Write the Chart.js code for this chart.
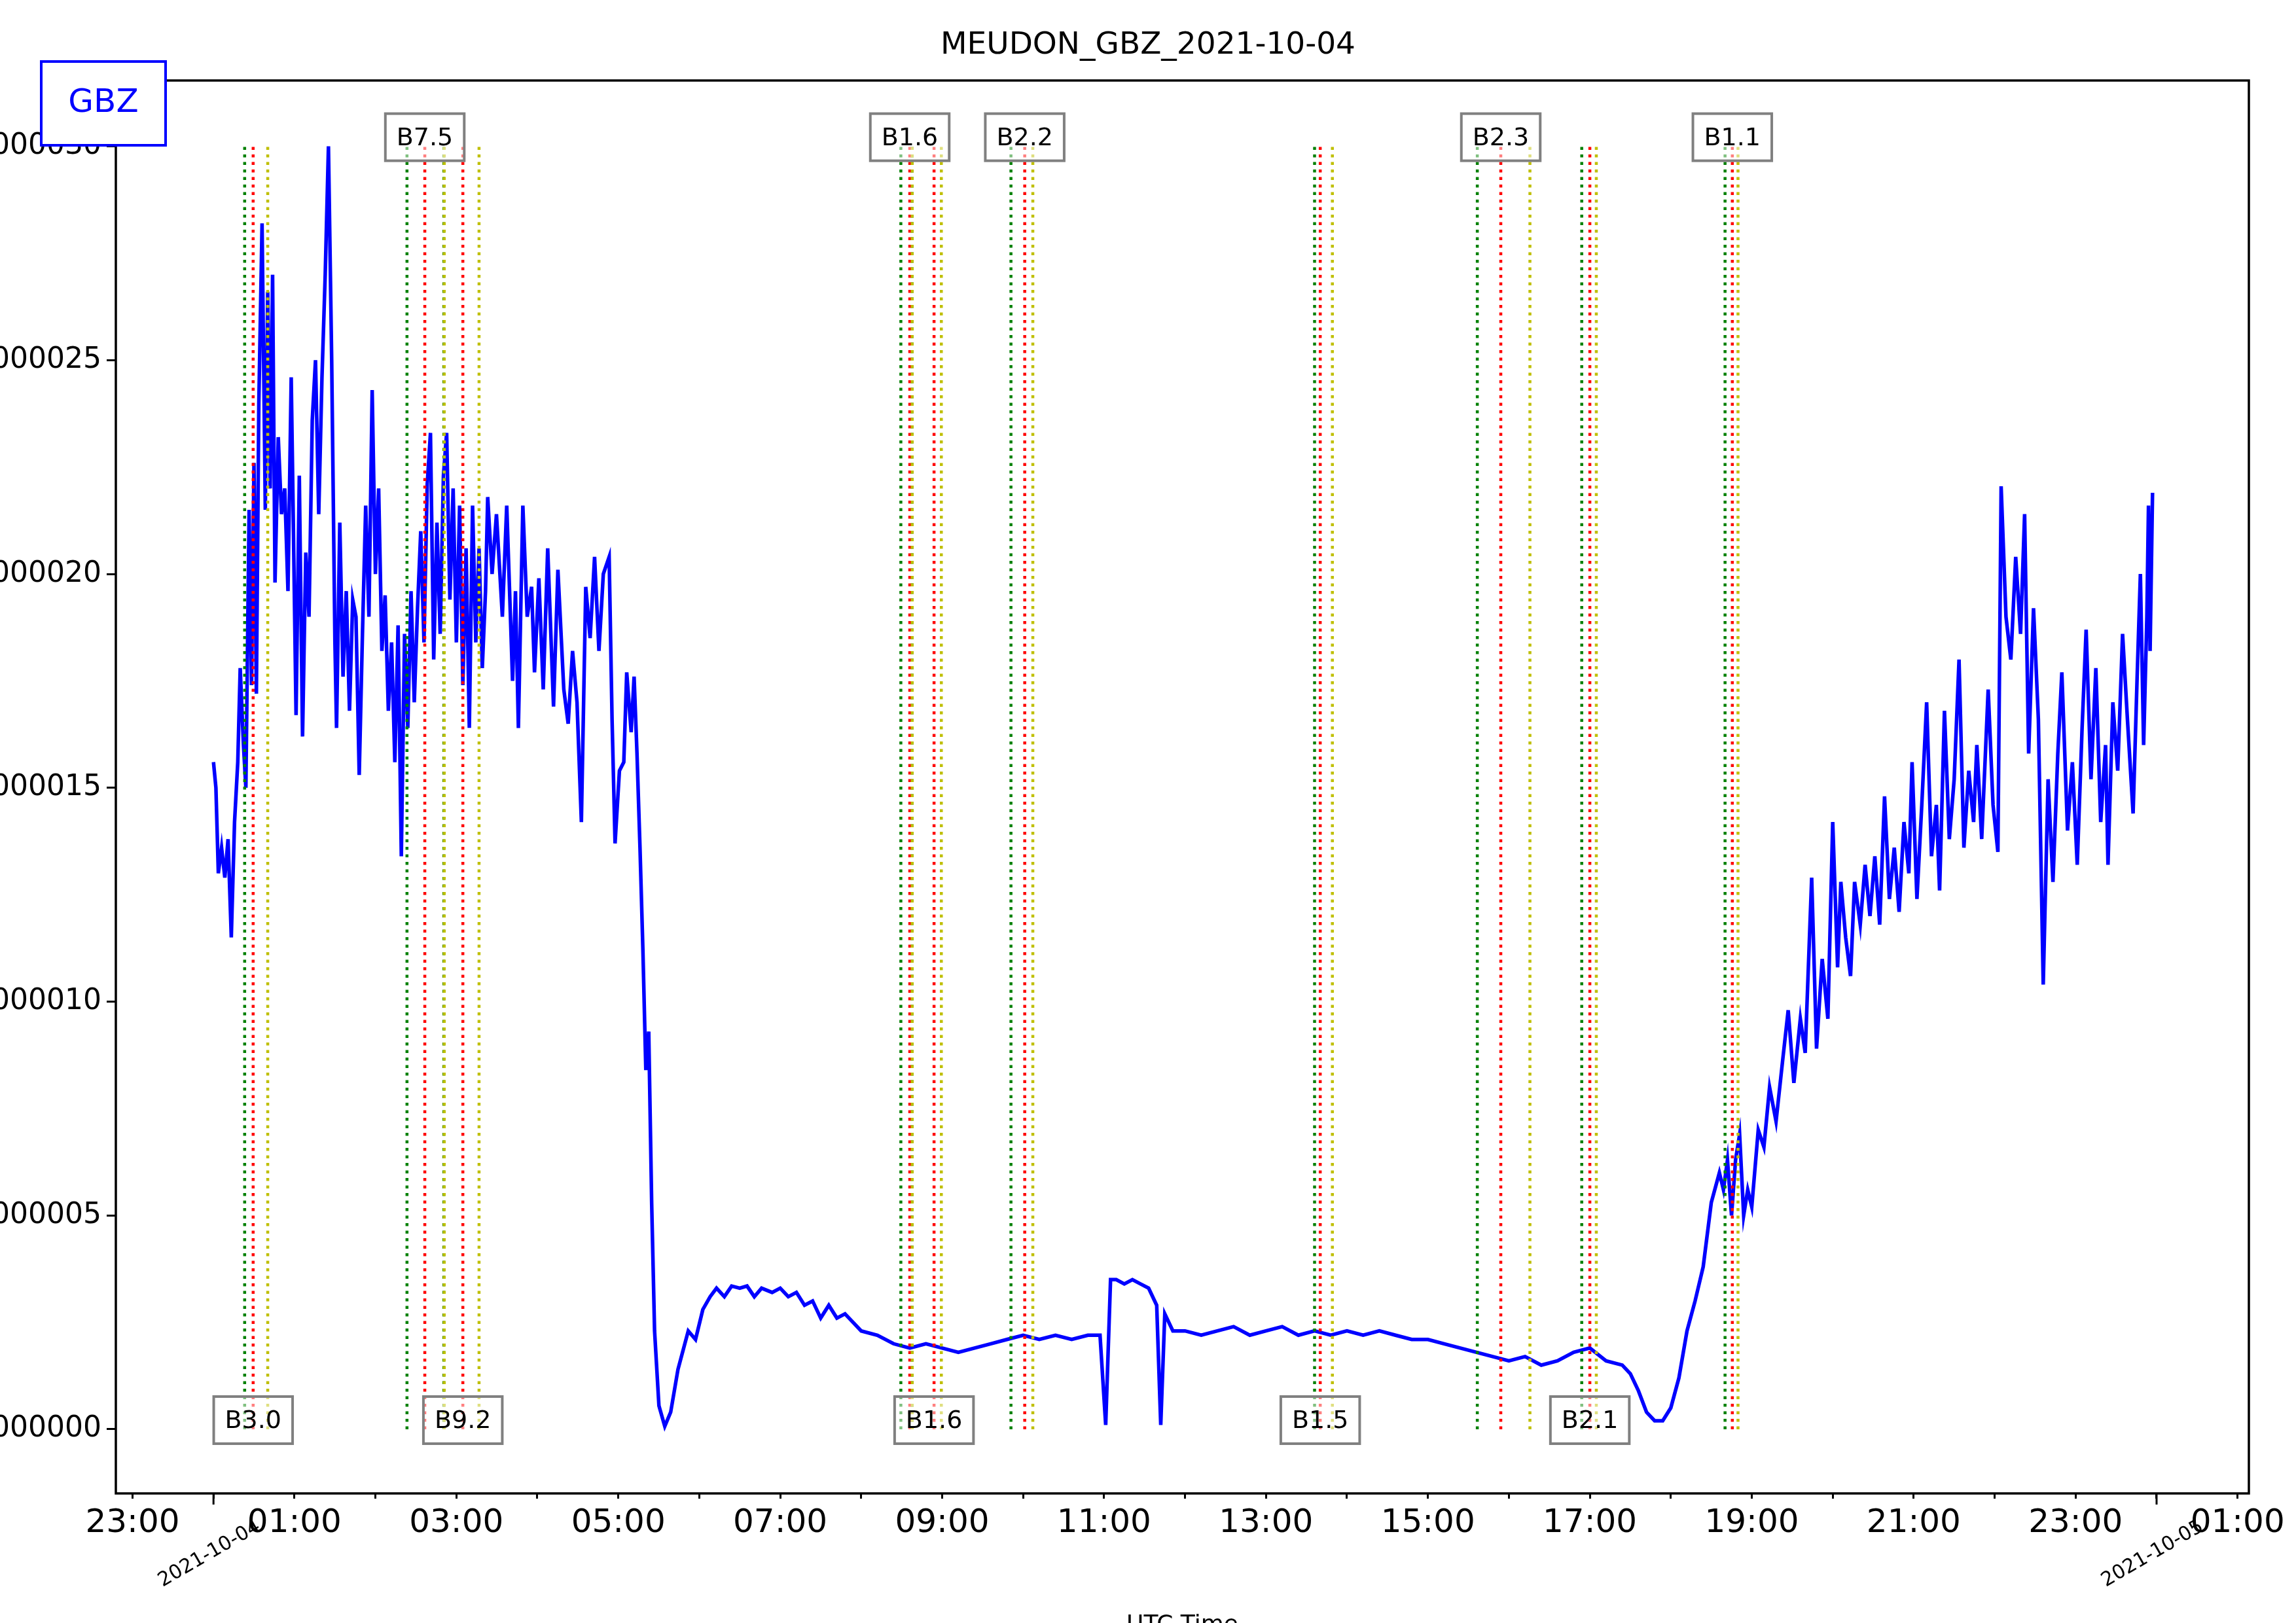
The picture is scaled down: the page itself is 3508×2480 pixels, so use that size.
<!DOCTYPE html>
<html>
<head>
<meta charset="UTF-8">
<title>MEUDON_GBZ_2021-10-04</title>
<script src="https://cdn.jsdelivr.net/npm/chart.js"></script>
<style>
  html, body { margin: 0; padding: 0; background: white; overflow: hidden; }
  #wrap { position: absolute; left: -275px; top: 0; width: 3783px; height: 2480px; }
</style>
</head>
<body>
<div id="wrap"><canvas id="wykres" width="3783" height="2480"></canvas></div>
<script>
// time in hours from 2021-10-04 00:00 UTC, signal in units of 1e-6
const hours = [
  0.00,0.03,0.06,0.10,0.14,0.18,0.22,0.26,0.30,0.33,0.37,0.40,0.44,0.47,0.50,0.53,0.56,0.60,0.64,0.67,
  0.70,0.73,0.76,0.80,0.84,0.88,0.92,0.96,0.98,1.02,1.06,1.10,1.14,1.18,1.22,1.26,1.30,1.34,1.38,1.42,
  1.46,1.50,1.52,1.56,1.60,1.64,1.68,1.72,1.76,1.80,1.84,1.88,1.92,1.96,2.00,2.04,2.08,2.12,2.16,2.20,
  2.24,2.28,2.32,2.36,2.40,2.44,2.48,2.52,2.56,2.60,2.64,2.68,2.72,2.76,2.80,2.84,2.88,2.92,2.96,3.00,
  3.04,3.08,3.12,3.16,3.20,3.24,3.28,3.32,3.36,
  3.387,3.441,3.495,3.568,3.622,3.694,3.730,3.766,3.821,3.875,3.929,3.965,4.019,4.073,4.128,4.200,4.254,4.327,4.381,4.435,
  4.490,4.544,4.598,4.652,4.707,4.761,4.815,4.887,4.923,4.960,5.014,5.068,5.104,5.159,5.195,5.231,5.268,5.304,5.340,5.376,
  5.412,5.448,5.502,5.574,5.647,5.737,5.864,5.954,6.044,6.134,6.213,6.31,6.40,6.50,6.59,6.68,6.77,
  6.90,7.00,7.10,7.20,7.30,7.40,7.50,7.60,7.70,7.80,7.90,8.00,8.20,8.40,8.60,8.80,9.00,9.20,9.40,9.60,
  9.80,10.00,10.20,10.40,10.60,10.80,10.95,
  11.02,11.08,11.15,11.25,11.35,11.45,11.55,11.65,11.70,11.75,11.85,12.00,12.20,12.40,12.60,12.80,13.00,13.20,13.40,13.60,
  13.80,14.00,14.20,14.40,14.60,14.80,15.00,15.20,15.40,15.60,15.80,16.00,16.20,16.40,16.60,16.80,17.00,17.20,17.40,17.50,
  17.60,17.70,17.80,17.90,18.00,18.10,18.20,18.30,18.40,18.50,18.60,18.65,18.70,18.75,18.80,18.85,18.90,18.95,19.00,19.08,
  19.15,19.22,19.30,19.38,19.45,19.52,19.60,19.66,19.74,19.80,19.87,19.94,20.00,20.06,20.10,20.16,20.22,20.27,20.34,20.40,
  20.46,20.52,20.58,20.64,20.70,20.76,20.82,20.88,20.94,20.98,21.04,21.10,21.16,21.22,21.28,21.32,21.38,21.44,21.50,21.56,
  21.62,21.68,21.74,21.78,21.84,21.92,21.98,22.04,22.08,22.14,22.20,22.26,22.32,22.37,22.42,22.48,22.54,22.60,22.66,22.72,
  22.78,22.83,22.90,22.96,23.02,23.08,23.13,23.19,23.25,23.31,23.37,23.40,23.46,23.52,23.58,23.64,23.71,23.76,23.80,23.84,
  23.88,23.90,23.92,23.95
];
const signal = [
  15.6,15.0,13.0,13.6,12.9,13.8,11.5,14.2,15.6,17.8,16.0,15.0,21.5,17.4,22.6,17.2,24.0,28.2,21.5,26.6,
  22.0,27.0,19.8,23.2,21.4,22.0,19.6,24.6,22.0,16.7,22.3,16.2,20.5,19.0,23.6,25.0,21.4,24.6,27.0,30.0,
  25.0,18.4,16.4,21.2,17.6,19.6,16.8,19.4,19.0,15.3,18.6,21.6,19.0,24.3,20.0,22.0,18.2,19.5,16.8,18.4,
  15.6,18.8,13.4,18.6,16.4,19.6,17.0,19.2,21.0,18.4,22.1,23.3,18.0,21.2,18.6,22.3,23.3,19.4,22.0,18.4,
  21.6,17.4,20.6,16.4,21.6,18.4,20.6,17.8,19.6,
  21.8,20.0,21.4,19.0,21.6,17.5,19.6,16.4,21.6,19.0,19.7,17.7,19.9,17.3,20.6,16.9,20.1,17.3,16.5,18.2,
  17.0,14.2,19.7,18.5,20.4,18.2,20.0,20.4,16.6,13.7,15.4,15.6,17.7,16.3,17.6,15.8,13.6,11.2,8.4,9.3,
  5.3,2.3,0.55,0.07,0.4,1.4,2.3,2.1,2.8,3.1,3.3,3.1,3.35,3.3,3.35,3.1,3.3,
  3.2,3.3,3.1,3.2,2.9,3.0,2.6,2.9,2.6,2.7,2.5,2.3,2.2,2.0,1.9,2.0,1.9,1.8,1.9,2.0,
  2.1,2.2,2.1,2.2,2.1,2.2,2.2,
  0.1,3.5,3.5,3.4,3.5,3.4,3.3,2.9,0.1,2.7,2.3,2.3,2.2,2.3,2.4,2.2,2.3,2.4,2.2,2.3,
  2.2,2.3,2.2,2.3,2.2,2.1,2.1,2.0,1.9,1.8,1.7,1.6,1.7,1.5,1.6,1.8,1.9,1.6,1.5,1.3,
  0.9,0.4,0.2,0.2,0.5,1.2,2.3,3.0,3.8,5.3,6.0,5.6,6.3,5.0,6.3,6.9,5.0,5.6,5.2,7.0,
  6.6,8.0,7.2,8.6,9.8,8.1,9.6,8.8,12.9,8.9,11.0,9.6,14.2,10.8,12.8,11.5,10.6,12.8,11.8,13.2,
  12.0,13.4,11.8,14.8,12.4,13.6,12.1,14.2,13.0,15.6,12.4,14.6,17.0,13.4,14.6,12.6,16.8,13.8,15.2,18.0,
  13.6,15.4,14.2,16.0,13.8,17.3,14.6,13.5,22.05,19.0,18.0,20.4,18.6,21.4,15.8,19.2,16.6,10.4,15.2,12.8,
  15.8,17.7,14.0,15.6,13.2,16.4,18.7,15.2,17.8,14.2,16.0,13.2,17.0,15.4,18.6,16.6,14.4,17.6,20.0,16.0,
  19.0,21.6,18.2,21.9
];
// flare events: start / peak / end (hours), class label, label position
const flareStart = [0.385, 2.39, 2.845, 8.49, 8.63, 9.85, 13.60, 15.61, 16.90, 18.67];
const flarePeak  = [0.49,  2.61, 3.08,  8.60, 8.90, 10.02, 13.67, 15.90, 17.00, 18.76];
const flareEnd   = [0.67,  2.85, 3.28,  8.63, 8.99, 10.12, 13.82, 16.26, 17.08, 18.83];
const flareClass = ['B3.0','B7.5','B9.2','B1.6','B1.6','B2.2','B1.5','B2.3','B2.1','B1.1'];
const flareLabelTop = [false, true, false, true, false, true, false, true, false, true];

const yTicks = [0, 5, 10, 15, 20, 25, 30];
const xTickHours = [-1, 1, 3, 5, 7, 9, 11, 13, 15, 17, 19, 21, 23, 25];
const dateLabels = [[0, '2021-10-04'], [24, '2021-10-05']];

const FONT = 'DejaVu Sans';
const OFF = 275;

const datasets = [];
function vline(x, color) {
  datasets.push({
    data: [{x: x, y: 0}, {x: x, y: 30}],
    borderColor: color, borderWidth: 4.5, borderDash: [4.5, 7],
    pointRadius: 0, fill: false
  });
}
flareStart.forEach((s, i) => {
  vline(flareEnd[i], '#bfbf00');
  vline(s, 'green');
  vline(flarePeak[i], 'red');
});
datasets.push({
  data: hours.map((h, i) => ({x: h, y: signal[i]})),
  borderColor: 'blue', borderWidth: 5.5, pointRadius: 0, tension: 0, fill: false
});

const decor = {
  id: 'decor',
  afterDraw(chart) {
    const c = chart.ctx, a = chart.chartArea;
    const xs = chart.scales.x, ys = chart.scales.y;
    c.save();
    c.strokeStyle = 'black'; c.lineWidth = 3.5;
    c.strokeRect(a.left, a.top, a.right - a.left, a.bottom - a.top);
    // longer ticks at the date boundaries
    c.lineWidth = 3;
    dateLabels.forEach(d => {
      const px = xs.getPixelForValue(d[0]);
      c.beginPath(); c.moveTo(px, a.bottom); c.lineTo(px, a.bottom + 17); c.stroke();
    });
    c.fillStyle = 'black'; c.font = '30px "' + FONT + '"';
    c.textAlign = 'right'; c.textBaseline = 'top';
    dateLabels.forEach(d => {
      const px = xs.getPixelForValue(d[0]);
      c.save(); c.translate(px + 62, a.bottom + 36); c.rotate(-Math.PI / 6);
      c.fillText(d[1], 0, 0); c.restore();
    });
    c.font = '36px "' + FONT + '"'; c.textAlign = 'center'; c.textBaseline = 'top';
    c.fillText('UTC Time', (a.left + a.right) / 2, 2466);
    c.font = '47px "' + FONT + '"'; c.textBaseline = 'middle';
    c.fillText('MEUDON_GBZ_2021-10-04', OFF + 1754, 70);
    // flare class labels
    c.font = '38px "' + FONT + '"';
    flareClass.forEach((t, i) => {
      const px = xs.getPixelForValue(flarePeak[i]);
      const py = (flareLabelTop[i] ? ys.getPixelForValue(30) : ys.getPixelForValue(0)) - 14;
      const w = c.measureText(t).width + 34, h = 72;
      c.fillStyle = 'rgba(255,255,255,0.5)';
      c.fillRect(px - w / 2, py - h / 2, w, h);
      c.strokeStyle = 'grey'; c.lineWidth = 4;
      c.strokeRect(px - w / 2, py - h / 2, w, h);
      c.fillStyle = 'black'; c.textAlign = 'center'; c.textBaseline = 'middle';
      c.fillText(t, px, py + 2);
    });
    // GBZ box
    c.fillStyle = 'white'; c.fillRect(OFF + 63, 94, 190, 128);
    c.strokeStyle = 'blue'; c.lineWidth = 4;
    c.strokeRect(OFF + 63, 94, 190, 128);
    c.fillStyle = 'blue'; c.font = '50px "' + FONT + '"';
    c.fillText('GBZ', OFF + 158, 158);
    c.restore();
  }
};

new Chart(document.getElementById('wykres'), {
  type: 'line',
  data: { datasets: datasets },
  plugins: [decor],
  options: {
    responsive: false, animation: false, devicePixelRatio: 1,
    layout: { padding: { top: 123, right: 72, left: 0, bottom: 0 } },
    plugins: { legend: { display: false }, tooltip: { enabled: false } },
    scales: {
      x: {
        type: 'linear', min: -1.206, max: 25.14,
        afterFit: s => { s.height = 198; },
        afterBuildTicks: s => { s.ticks = []; for (let h = -1; h <= 25; h++) s.ticks.push({value: h}); },
        grid: { drawOnChartArea: false, color: 'black', lineWidth: 3, tickLength: 8 },
        border: { display: false },
        ticks: {
          color: 'black', font: { family: FONT, size: 50 }, maxRotation: 0, autoSkip: false, padding: 8,
          callback: v => xTickHours.includes(v) ? String(((v % 24) + 24) % 24).padStart(2, '0') + ':00' : ''
        }
      },
      y: {
        min: -1.5, max: 31.54,
        afterFit: s => { s.width = 177 + OFF; },
        afterBuildTicks: s => { s.ticks = yTicks.map(v => ({value: v})); },
        grid: { drawOnChartArea: false, color: 'black', lineWidth: 3, tickLength: 14 },
        border: { display: false },
        ticks: { color: 'black', font: { family: FONT, size: 44 }, padding: 8,
          callback: v => (v * 1e-6).toFixed(6) }
      }
    }
  }
});
</script>
</body>
</html>
